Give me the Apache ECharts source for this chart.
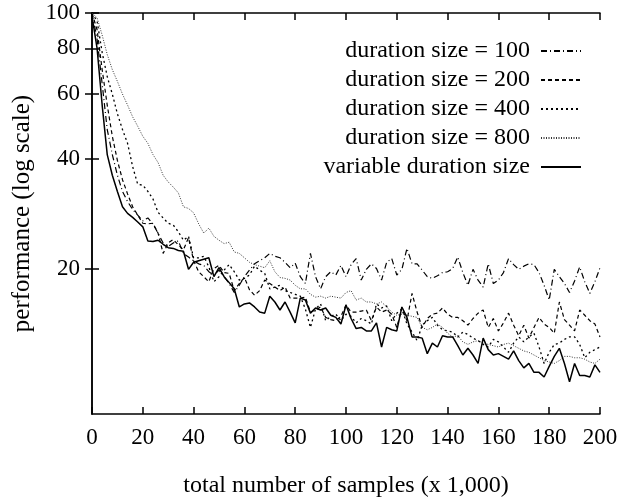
<!DOCTYPE html>
<html><head><meta charset="utf-8">
<script src="https://cdn.jsdelivr.net/npm/echarts@6/dist/echarts.min.js"></script>
<style>html,body{margin:0;padding:0;background:#fff}#c{width:637px;height:498px}</style>
</head><body><div id="c"></div>
<script>
const samples = [0,2,4,6,8,10,12,14,16,18,20,22,24,26,28,30,32,34,36,38,40,42,44,46,48,50,52,54,56,58,60,62,64,66,68,70,72,74,76,78,80,82,84,86,88,90,92,94,96,98,100,102,104,106,108,110,112,114,116,118,120,122,124,126,128,130,132,134,136,138,140,142,144,146,148,150,152,154,156,158,160,162,164,166,168,170,172,174,176,178,180,182,184,186,188,190,192,194,196,198,200];
const seriesNames = ['duration size = 100','duration size = 200','duration size = 400','duration size = 800','variable duration size'];
const yTickValues = [20,40,60,80,100];
const dur100 = [100,85,64,48,41,36,32.5,30.5,29,28,27,27.5,26.5,25,23.5,23,23.5,23.8,22,21.5,21,20.6,20.4,19.6,19.2,19.8,19.0,18.2,17.2,18.0,19.0,19.8,20.6,21.0,21.4,22.0,21.6,21.4,20.8,20.1,20.7,19.0,18.2,22.0,19.0,17.6,19.0,19.6,19.2,20.4,19.0,20.5,21.3,18.6,19.9,20.6,20.0,18.6,20.8,21.3,19.2,19.9,22.7,20.6,20.6,19.8,19.0,18.8,19.1,19.5,19.6,20.0,21.5,19.5,18.0,19.9,18.6,17.8,20.6,18.2,18.6,19.5,21.3,20.5,19.9,20.3,20.6,20.5,19.5,18.0,16.4,19.9,19.0,18.2,17.2,18.5,20.2,18.4,17.1,18.4,20.1];
const dur200 = [100,90,70,56,46,39.5,35,32,29.5,28,26.6,26.5,26.6,25,22,23.5,24,23.2,22.5,24.3,21,19.6,19.0,18.4,20.0,20.4,19.5,19.4,17.4,18.2,18.9,17.5,16.9,17.4,18.6,18.2,17.8,17.4,17.8,16.6,16.6,16.6,16.7,15.2,15.4,15.7,14.7,14.5,14.4,14.8,15.9,15.2,15.2,15.3,15.4,14.4,15.7,15.2,15.4,15.0,13.8,15.6,14.4,17.1,15.2,13.8,14.6,15.0,15.1,15.6,15.0,14.7,14.7,14.4,14.0,14.6,15.1,15.4,13.8,14.6,13.5,14.2,15.1,14.0,13.1,14.0,12.9,13.8,14.7,14.1,13.8,13.3,16.2,14.5,14.0,13.5,15.4,14.9,14.4,14.1,13.0];
const dur400 = [100,95,78,67,60,53,48,44,38,34,33.8,32.5,31,28.5,27.5,26.6,26.3,25.2,23.9,24.5,21.4,21.4,21.6,20.2,18.4,19.0,19.8,20.5,19.6,18.6,18.8,19.2,20.3,19.8,19.4,17.6,17.8,18.0,17.4,17.2,17.0,16.8,15.5,13.8,15.5,16.0,14.4,14.8,15.0,14.4,15.0,14.8,14.2,14.6,14.4,14.1,16.0,15.6,15.8,14.4,15.1,15.5,14.1,13.4,12.7,14.0,14.4,14.7,14.0,13.6,13.5,13.4,13.0,13.4,13.2,12.9,12.7,12.4,12.2,12.8,12.6,12.2,11.8,12.5,13.0,12.6,13.0,13.3,12.2,11.0,11.8,12.4,12.5,12.8,13.0,13.0,12.4,11.4,11.8,12.0,12.2];
const dur800 = [100,97,87,77,70,65,60,56,52,49,46,44,41,39,36,34.5,33.4,32.2,29.5,29.2,28.4,26.5,25,25.8,24.5,23.9,23.4,23.6,22.2,22.0,21.4,20.8,20.5,20.3,20.1,21.0,19.6,18.9,18.8,18.6,18.0,17.6,17.6,17.0,16.7,16.8,16.6,16.8,16.7,16.6,17.2,17.4,16.4,16.6,16.2,16.2,16.0,16.2,15.7,15.2,14.9,15.0,14.9,14.8,14.7,13.8,13.6,13.8,14.1,13.8,13.3,13.0,13.1,12.6,12.4,12.6,12.7,12.5,12.4,12.3,12.2,12.4,12.5,12.3,12.1,11.9,11.8,11.6,11.4,11.2,11.1,11.0,11.2,11.5,11.5,11.4,11.4,11.3,11.1,11.0,11.3];
const durVar = [98,80,56,41,36,32.5,29.5,28.3,27.6,26.8,26.0,23.8,23.7,23.9,23.3,22.8,22.7,22.4,22.3,19.9,20.8,21.0,21.2,21.4,19.0,20.1,19.0,18.3,17.6,15.7,16.0,16.1,15.7,15.2,15.1,16.8,16.2,15.4,16.2,15.2,14.2,16.6,16.4,15.1,15.6,15.4,15.6,14.9,14.7,14.1,15.9,14.6,13.7,13.8,13.5,13.5,14.2,12.2,13.8,13.6,13.5,15.7,14.7,13.0,13.0,12.9,11.7,12.5,12.2,13.1,13.0,13.0,12.3,11.6,12.1,11.6,11.0,12.9,12.0,11.6,11.7,11.5,11.3,11.9,11.2,10.7,11.0,10.4,10.4,10.1,10.8,11.5,12.1,11.0,9.8,11.0,10.2,10.2,10.1,10.9,10.4];

const allValues = [dur100, dur200, dur400, dur800, durVar];
const dashes = [[6,3,1,3],[4,3],[2,3],[1,1.5],'solid'];
const widths = [1.2,1.2,1.3,1,1.5];
const colors = ['#000','#000','#000','#333','#000'];
const font = 'Liberation Serif';

const chart = echarts.init(document.getElementById('c'), null, {renderer:'canvas'});
const axisLine = {show:true, lineStyle:{color:'#000', width:1.5}};
chart.setOption({
  animation:false,
  backgroundColor:'#fff',
  grid:{left:92, top:13, width:508, height:401, containLabel:false, outerBoundsMode:'none'},
  legend:{
    orient:'vertical', right:50, top:34, align:'right',
    itemWidth:40, itemHeight:14, itemGap:5,
    itemStyle:{opacity:0},
    textStyle:{fontFamily:font, fontSize:24, color:'#000', padding:[0,6,0,0]},
    data:seriesNames
  },
  xAxis:[{
    type:'value', min:0, max:200, interval:20, position:'bottom',
    axisLine:axisLine, splitLine:{show:false},
    axisTick:{inside:true, length:7, lineStyle:{color:'#000', width:1.5}},
    axisLabel:{fontFamily:font, fontSize:23, color:'#000', margin:12},
    name:'total number of samples (x 1,000)', nameLocation:'middle', nameGap:60,
    nameTextStyle:{fontFamily:font, fontSize:24, color:'#000'}
  },{
    type:'value', min:0, max:200, interval:20, position:'top',
    axisLine:axisLine, splitLine:{show:false},
    axisTick:{inside:true, length:7, lineStyle:{color:'#000', width:1.5}},
    axisLabel:{show:false}
  }],
  yAxis:[{
    type:'log', logBase:10, min:8, max:100, position:'left',
    axisLine:axisLine, splitLine:{show:false}, minorTick:{show:false},
    axisTick:{inside:true, length:7, customValues:yTickValues, lineStyle:{color:'#000', width:1.5}},
    axisLabel:{fontFamily:font, fontSize:23, color:'#000', margin:12, customValues:yTickValues},
    name:'performance (log scale)', nameLocation:'middle', nameGap:57, nameRotate:90,
    nameTextStyle:{fontFamily:font, fontSize:25, color:'#000'}
  },{
    type:'log', logBase:10, min:8, max:100, position:'right',
    axisLine:axisLine, splitLine:{show:false},
    axisTick:{inside:true, length:7, customValues:yTickValues, lineStyle:{color:'#000', width:1.5}},
    axisLabel:{show:false}
  }],
  series: seriesNames.map((n,i)=>({
    name:n, type:'line', symbol:'none', showSymbol:false, clip:true,
    xAxisIndex:0, yAxisIndex:0,
    lineStyle:{color:colors[i], width:widths[i], type:dashes[i]},
    itemStyle:{color:colors[i]},
    data: samples.map((x,k)=>[x, allValues[i][k]])
  }))
});
</script></body></html>
